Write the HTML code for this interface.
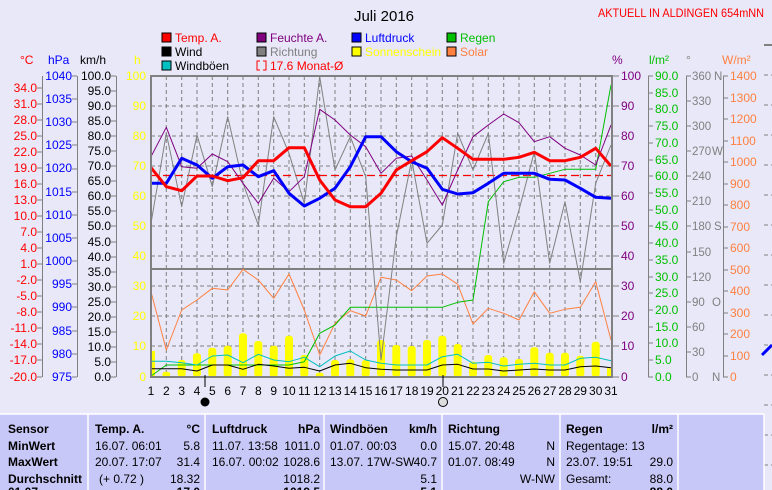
<!DOCTYPE html>
<html><head><meta charset="utf-8"><style>
html,body{margin:0;padding:0;background:#e8e8f8;}
svg{display:block;font-family:"Liberation Sans",sans-serif;}
</style></head><body>
<svg width="772" height="490" xmlns="http://www.w3.org/2000/svg" font-size="12">
<rect width="772" height="490" fill="#e8e8f8"/>
<text x="384" y="21" font-size="15" text-anchor="middle">Juli 2016</text>
<text x="598" y="17" font-size="12" fill="#ff0000" textLength="166" lengthAdjust="spacingAndGlyphs">AKTUELL IN ALDINGEN 654mNN</text>
<!-- legend -->
<g stroke="#000" stroke-width="1">
<rect x="162" y="33" width="9" height="9" fill="#ff0000"/>
<rect x="162" y="47" width="9" height="9" fill="#000"/>
<rect x="162" y="61" width="9" height="9" fill="#00c0c0"/>
<rect x="257" y="33" width="9" height="9" fill="#800080"/>
<rect x="257" y="47" width="9" height="9" fill="#808080"/>
<rect x="352" y="33" width="9" height="9" fill="#0000ff"/>
<rect x="352" y="47" width="9" height="9" fill="#ffff00"/>
<rect x="447" y="33" width="9" height="9" fill="#00c000"/>
<rect x="447" y="47" width="9" height="9" fill="#ff8040"/>
</g>
<path d="M260 61 h-3 v9 h3 M263 61 h3 v9 h-3" stroke="#ff0000" fill="none"/>
<g font-size="12">
<text x="175" y="42" fill="#ff0000">Temp. A.</text>
<text x="175" y="56">Wind</text>
<text x="175" y="70">Windböen</text>
<text x="270" y="42" fill="#800080">Feuchte A.</text>
<text x="270" y="56" fill="#808080">Richtung</text>
<text x="270" y="70" fill="#ff0000">17.6 Monat-Ø</text>
<text x="365" y="42" fill="#0000ff">Luftdruck</text>
<text x="365" y="56" fill="#ffff00">Sonnenschein</text>
<text x="460" y="42" fill="#00c000">Regen</text>
<text x="460" y="56" fill="#ff8040">Solar</text>
</g>
<!-- unit headers -->
<text x="20" y="64" fill="#ff0000">°C</text>
<text x="48" y="64" fill="#0000ff">hPa</text>
<text x="80" y="64">km/h</text>
<text x="134" y="64" fill="#ffff00">h</text>
<text x="612" y="64" fill="#800080">%</text>
<text x="649" y="64" fill="#00c000">l/m²</text>
<text x="686" y="64" fill="#808080">°</text>
<text x="722" y="64" fill="#ff8040">W/m²</text>

<!-- left axes lines -->
<g stroke="#808080" stroke-width="1">
<line x1="42.5" y1="76" x2="42.5" y2="377"/>
<line x1="77.5" y1="76" x2="77.5" y2="377"/>
<line x1="116.5" y1="76" x2="116.5" y2="377"/>
<line x1="648.5" y1="76" x2="648.5" y2="377"/>
<line x1="686.5" y1="76" x2="686.5" y2="377"/>
<line x1="723.5" y1="76" x2="723.5" y2="377"/>
</g>
<!-- °C -->
<g fill="#ff0000" text-anchor="end">
<text x="37" y="92">34.0</text><text x="37" y="108">31.0</text><text x="37" y="124">28.0</text><text x="37" y="140">25.0</text><text x="37" y="156">22.0</text><text x="37" y="172">19.0</text><text x="37" y="188">16.0</text><text x="37" y="204">13.0</text><text x="37" y="220">10.0</text><text x="37" y="236">7.0</text><text x="37" y="252">4.0</text><text x="37" y="268">1.0</text><text x="37" y="284">-2.0</text><text x="37" y="300">-5.0</text><text x="37" y="316">-8.0</text><text x="37" y="332">-11.0</text><text x="37" y="348">-14.0</text><text x="37" y="364">-17.0</text><text x="37" y="381">-20.0</text>
</g>
<path stroke="#808080" d="M37 88h5M37 104h5M37 120h5M37 136h5M37 152h5M37 168h5M37 184h5M37 200h5M37 216h5M37 232h5M37 248h5M37 264h5M37 280h5M37 296h5M37 312h5M37 328h5M37 344h5M37 360h5M37 377h5"/>
<!-- hPa -->
<g fill="#0000ff" text-anchor="end">
<text x="72" y="80">1040</text><text x="72" y="103">1035</text><text x="72" y="126">1030</text><text x="72" y="149">1025</text><text x="72" y="172">1020</text><text x="72" y="196">1015</text><text x="72" y="219">1010</text><text x="72" y="242">1005</text><text x="72" y="265">1000</text><text x="72" y="288">995</text><text x="72" y="311">990</text><text x="72" y="335">985</text><text x="72" y="358">980</text><text x="72" y="381">975</text>
</g>
<path stroke="#808080" d="M72 76h5M72 99h5M72 122h5M72 145h5M72 169h5M72 192h5M72 215h5M72 238h5M72 261h5M72 284h5M72 307h5M72 331h5M72 354h5M72 377h5"/>
<!-- km/h -->
<g fill="#000" text-anchor="end">
<text x="111" y="80">100.0</text><text x="111" y="95">95.0</text><text x="111" y="110">90.0</text><text x="111" y="125">85.0</text><text x="111" y="140">80.0</text><text x="111" y="155">75.0</text><text x="111" y="170">70.0</text><text x="111" y="185">65.0</text><text x="111" y="200">60.0</text><text x="111" y="215">55.0</text><text x="111" y="230">50.0</text><text x="111" y="246">45.0</text><text x="111" y="261">40.0</text><text x="111" y="276">35.0</text><text x="111" y="291">30.0</text><text x="111" y="306">25.0</text><text x="111" y="321">20.0</text><text x="111" y="336">15.0</text><text x="111" y="351">10.0</text><text x="111" y="366">5.0</text><text x="111" y="381">0.0</text>
</g>
<path stroke="#808080" d="M111 76h5M111 91h5M111 106h5M111 121h5M111 136h5M111 151h5M111 166h5M111 181h5M111 196h5M111 211h5M111 226h5M111 242h5M111 257h5M111 272h5M111 287h5M111 302h5M111 317h5M111 332h5M111 347h5M111 362h5M111 377h5"/>
<!-- h -->
<g fill="#ffff00" text-anchor="end">
<text x="146" y="80">100</text><text x="146" y="110">90</text><text x="146" y="140">80</text><text x="146" y="170">70</text><text x="146" y="200">60</text><text x="146" y="230">50</text><text x="146" y="260">40</text><text x="146" y="290">30</text><text x="146" y="320">20</text><text x="146" y="350">10</text><text x="146" y="381">0</text>
</g>

<!-- grid -->
<g stroke="#808080" stroke-dasharray="4,3" stroke-width="1">
<path d="M151 106h461M151 136h461M151 166h461M151 196h461M151 226h461M151 256h461M151 286h461M151 316h461M151 346h461"/>
<path d="M166.3 76v301M181.7 76v301M197 76v301M212.3 76v301M227.7 76v301M243 76v301M258.3 76v301M273.7 76v301M289 76v301M304.3 76v301M319.7 76v301M335 76v301M350.3 76v301M365.7 76v301M381 76v301M396.3 76v301M411.7 76v301M427 76v301M442.3 76v301M457.7 76v301M473 76v301M488.3 76v301M503.7 76v301M519 76v301M534.3 76v301M549.7 76v301M565 76v301M580.3 76v301M595.7 76v301"/>
</g>
<line x1="151" y1="269" x2="612" y2="269" stroke="#808080" stroke-width="2"/>
<line x1="151" y1="175.5" x2="612" y2="175.5" stroke="#ff0000" stroke-width="1.2" stroke-dasharray="8,4"/>

<!-- sunshine bars -->
<g fill="#ffff00">
<rect x="151" y="351" width="4" height="26"/>
<rect x="162.3" y="371.7" width="8" height="5.3" rx="3"/>
<rect x="177.7" y="360" width="8" height="17" rx="3"/>
<rect x="193" y="353.3" width="8" height="23.7" rx="3"/>
<rect x="208.3" y="347.7" width="8" height="29.3" rx="3"/>
<rect x="223.7" y="345.7" width="8" height="31.3" rx="3"/>
<rect x="239" y="333.3" width="8" height="43.7" rx="3"/>
<rect x="254.3" y="341" width="8" height="36" rx="3"/>
<rect x="269.7" y="345.7" width="8" height="31.3" rx="3"/>
<rect x="285" y="335.7" width="8" height="41.3" rx="3"/>
<rect x="300.3" y="355" width="8" height="22" rx="3"/>
<rect x="315.7" y="372.7" width="8" height="4.3" rx="3"/>
<rect x="331" y="360" width="8" height="17" rx="3"/>
<rect x="346.3" y="359.3" width="8" height="17.7" rx="3"/>
<rect x="361.7" y="360" width="8" height="17" rx="3"/>
<rect x="377" y="340" width="8" height="37" rx="3"/>
<rect x="392.3" y="345" width="8" height="32" rx="3"/>
<rect x="407.7" y="346" width="8" height="31" rx="3"/>
<rect x="423" y="340" width="8" height="37" rx="3"/>
<rect x="438.3" y="335.7" width="8" height="41.3" rx="3"/>
<rect x="453.7" y="344" width="8" height="33" rx="3"/>
<rect x="469" y="361.7" width="8" height="15.3" rx="3"/>
<rect x="484.3" y="355" width="8" height="22" rx="3"/>
<rect x="499.7" y="357.3" width="8" height="19.7" rx="3"/>
<rect x="515" y="359" width="8" height="18" rx="3"/>
<rect x="530.3" y="347.3" width="8" height="29.7" rx="3"/>
<rect x="545.7" y="352.7" width="8" height="24.3" rx="3"/>
<rect x="561" y="352.7" width="8" height="24.3" rx="3"/>
<rect x="576.3" y="355.7" width="8" height="21.3" rx="3"/>
<rect x="591.7" y="341.7" width="8" height="35.3" rx="3"/>
<rect x="607" y="368.3" width="4" height="8.7"/>
</g>

<g fill="none" stroke-linejoin="round">
<polyline stroke="#ff8040" stroke-width="1" points="151,291.7 166.3,350 181.7,310 197,300 212.3,288.3 227.7,290 243,269.3 258.3,280 273.7,298.3 289,274 304.3,310 319.7,355 335,323.3 350.3,310.7 365.7,316 381,277.3 396.3,280 411.7,290.7 427,276 442.3,274 457.7,284.3 473,324 488.3,308.3 503.7,313.3 519,320 534.3,291.7 549.7,313.3 565,309.3 580.3,307.3 595.7,281.7 611,340"/>
<polyline stroke="#00c000" stroke-width="1" points="151,376 166.3,365 181.7,365 197,365 212.3,365 227.7,365 243,365 258.3,365 273.7,365 289,365 304.3,361.7 319.7,333.3 335,325 350.3,307.3 365.7,307.3 381,307.3 396.3,307.3 411.7,307.3 427,307.3 442.3,307.3 457.7,302.3 473,300 488.3,201.7 503.7,181.7 519,177.3 534.3,177.3 549.7,173.3 565,169.3 580.3,169.3 595.7,169.3 611,85"/>
<polyline stroke="#00c0c0" stroke-width="1" points="151,361.3 166.3,361.3 181.7,362.7 197,365 212.3,356 227.7,355 243,362.7 258.3,354.3 273.7,360 289,361.7 304.3,357.3 319.7,366.7 335,356 350.3,351 365.7,360 381,363.3 396.3,365 411.7,365 427,365 442.3,356.7 457.7,354.3 473,363.3 488.3,362.3 503.7,366 519,364.3 534.3,363.3 549.7,365 565,365 580.3,358.3 595.7,357.3 611,360.7"/>
<polyline stroke="#000" stroke-width="1" points="151,368.7 166.3,368.7 181.7,368.7 197,371 212.3,365 227.7,365 243,369.3 258.3,364.3 273.7,366 289,368.3 304.3,367.3 319.7,371 335,365 350.3,363.3 365.7,367.7 381,369.3 396.3,370 411.7,370 427,370 442.3,365 457.7,364.3 473,369 488.3,369 503.7,371 519,370 534.3,369 549.7,370 565,370 580.3,366.7 595.7,366 611,367.7"/>
<polyline stroke="#808080" stroke-width="1" points="151,223.3 166.3,133.3 181.7,206.7 197,135 212.3,186.7 227.7,116.7 243,183.3 258.3,225 273.7,116.7 289,153.3 304.3,203.3 319.7,76.7 335,170 350.3,136.7 365.7,176.7 381,360 396.3,236.7 411.7,160 427,243.3 442.3,225 457.7,133.3 473,170 488.3,133.3 503.7,263.3 519,210 534.3,151.7 549.7,263.3 565,201.7 580.3,281.7 595.7,183.3 611,145"/>
<polyline stroke="#800080" stroke-width="1" points="151,156.7 166.3,127.3 181.7,166.7 197,168.3 212.3,154 227.7,161.7 243,183.3 258.3,203.3 273.7,178.3 289,191.7 304.3,176.7 319.7,109.3 335,120 350.3,135 365.7,146.7 381,173.3 396.3,158.3 411.7,156 427,180 442.3,205 457.7,170 473,136.7 488.3,125 503.7,114 519,122.7 534.3,141.7 549.7,136.7 565,148.3 580.3,155 595.7,165 611,125"/>
<polyline stroke="#0000ff" stroke-width="3" points="151,183.3 166.3,183.3 181.7,158.3 197,165 212.3,178.3 227.7,166.7 243,165 258.3,176.7 273.7,170.7 289,193.3 304.3,206 319.7,198.3 335,188.3 350.3,166.7 365.7,136.7 381,136.7 396.3,151.7 411.7,161.7 427,168.3 442.3,189.3 457.7,194 473,192.7 488.3,183.3 503.7,173.3 519,173.3 534.3,173.3 549.7,179.3 565,180 580.3,188.3 595.7,197.3 611,198.3"/>
<polyline stroke="#ff0000" stroke-width="3" points="151,167.7 166.3,186.7 181.7,190.7 197,176 212.3,176 227.7,180.7 243,177.7 258.3,160.7 273.7,160.7 289,147.7 304.3,147.7 319.7,180 335,200 350.3,206.7 365.7,206.7 381,193.3 396.3,170 411.7,160.7 427,151.7 442.3,137.7 457.7,148.3 473,159.3 488.3,159.3 503.7,159.3 519,157.3 534.3,152.3 549.7,160.7 565,160.7 580.3,157.3 595.7,148.3 611,166"/>
</g>

<rect x="151" y="76" width="461" height="301" fill="none" stroke="#808080" stroke-width="2"/>

<!-- right axes -->
<g fill="#800080">
<text x="621" y="80">100</text><text x="621" y="110">90</text><text x="621" y="140">80</text><text x="621" y="170">70</text><text x="621" y="200">60</text><text x="621" y="230">50</text><text x="621" y="260">40</text><text x="621" y="290">30</text><text x="621" y="320">20</text><text x="621" y="350">10</text><text x="621" y="381">0</text>
</g>
<path stroke="#808080" d="M612 76h7M612 106h7M612 136h7M612 166h7M612 196h7M612 226h7M612 256h7M612 286h7M612 316h7M612 346h7M612 377h7"/>
<g fill="#00c000">
<text x="655" y="80">90.0</text><text x="655" y="97">85.0</text><text x="655" y="113">80.0</text><text x="655" y="130">75.0</text><text x="655" y="147">70.0</text><text x="655" y="164">65.0</text><text x="655" y="180">60.0</text><text x="655" y="197">55.0</text><text x="655" y="214">50.0</text><text x="655" y="230">45.0</text><text x="655" y="247">40.0</text><text x="655" y="264">35.0</text><text x="655" y="281">30.0</text><text x="655" y="297">25.0</text><text x="655" y="314">20.0</text><text x="655" y="331">15.0</text><text x="655" y="347">10.0</text><text x="655" y="364">5.0</text><text x="655" y="381">0.0</text>
</g>
<path stroke="#808080" d="M648 76h5M648 93h5M648 109h5M648 126h5M648 143h5M648 160h5M648 176h5M648 193h5M648 210h5M648 226h5M648 243h5M648 260h5M648 277h5M648 293h5M648 310h5M648 327h5M648 343h5M648 360h5M648 377h5"/>
<g fill="#808080" font-size="11.5">
<text x="692" y="80">360</text><text x="692" y="105">330</text><text x="692" y="130">300</text><text x="692" y="155">270</text><text x="692" y="180">240</text><text x="692" y="205">210</text><text x="692" y="230">180</text><text x="692" y="256">150</text><text x="692" y="281">120</text><text x="692" y="306">90</text><text x="692" y="331">60</text><text x="692" y="356">30</text><text x="692" y="381">0</text>
<text x="714" y="80">N</text><text x="712" y="155">W</text><text x="714" y="230">S</text><text x="712" y="306">O</text><text x="712" y="381">N</text>
</g>
<path stroke="#808080" d="M686 76h5M686 101h5M686 126h5M686 151h5M686 176h5M686 201h5M686 226h5M686 252h5M686 277h5M686 302h5M686 327h5M686 352h5M686 377h5"/>
<g fill="#ff8040">
<text x="730" y="80">1400</text><text x="730" y="102">1300</text><text x="730" y="123">1200</text><text x="730" y="145">1100</text><text x="730" y="166">1000</text><text x="730" y="188">900</text><text x="730" y="209">800</text><text x="730" y="231">700</text><text x="730" y="252">600</text><text x="730" y="274">500</text><text x="730" y="295">400</text><text x="730" y="317">300</text><text x="730" y="338">200</text><text x="730" y="360">100</text><text x="730" y="381">0</text>
</g>
<path stroke="#808080" d="M723 76h5M723 98h5M723 119h5M723 141h5M723 162h5M723 184h5M723 205h5M723 227h5M723 248h5M723 270h5M723 291h5M723 313h5M723 334h5M723 356h5M723 377h5"/>
<line x1="764" y1="45" x2="772" y2="45" stroke="#808080" stroke-width="2"/>
<path stroke="#808080" stroke-dasharray="4,3" d="M764 75h8M764 105h8M764 135h8M764 165h8M764 195h8M764 225h8M764 255h8M764 285h8M764 315h8M764 345h8M764 375h8M764 405h8M764 435h8M764 465h8"/>
<path d="M762 355 l10 -10" stroke="#0000ff" stroke-width="3"/>

<g text-anchor="middle" font-size="12">
<text x="151" y="395">1</text><text x="166.3" y="395">2</text><text x="181.7" y="395">3</text><text x="197" y="395">4</text><text x="212.3" y="395">5</text><text x="227.7" y="395">6</text><text x="243" y="395">7</text><text x="258.3" y="395">8</text><text x="273.7" y="395">9</text><text x="289" y="395">10</text><text x="304.3" y="395">11</text><text x="319.7" y="395">12</text><text x="335" y="395">13</text><text x="350.3" y="395">14</text><text x="365.7" y="395">15</text><text x="381" y="395">16</text><text x="396.3" y="395">17</text><text x="411.7" y="395">18</text><text x="427" y="395">19</text><text x="442.3" y="395">20</text><text x="457.7" y="395">21</text><text x="473" y="395">22</text><text x="488.3" y="395">23</text><text x="503.7" y="395">24</text><text x="519" y="395">25</text><text x="534.3" y="395">26</text><text x="549.7" y="395">27</text><text x="565" y="395">28</text><text x="580.3" y="395">29</text><text x="595.7" y="395">30</text><text x="611" y="395">31</text>
</g>
<line x1="205" y1="375" x2="205" y2="387" stroke="#000"/>
<line x1="443" y1="375" x2="443" y2="387" stroke="#000"/>
<circle cx="205" cy="402" r="4.5" fill="#000"/>
<circle cx="443" cy="402" r="4.5" fill="#ddd" stroke="#000"/>

<rect x="0" y="414" width="764" height="76" fill="#c8c8f8"/>
<line x1="0" y1="414" x2="764" y2="414" stroke="#fff" stroke-width="1.5"/>
<g stroke="#fff" stroke-width="1.5">
<line x1="88" y1="414" x2="88" y2="490"/><line x1="205" y1="414" x2="205" y2="490"/><line x1="324" y1="414" x2="324" y2="490"/><line x1="442" y1="414" x2="442" y2="490"/><line x1="560" y1="414" x2="560" y2="490"/><line x1="678" y1="414" x2="678" y2="490"/><line x1="764" y1="414" x2="764" y2="490"/>
</g>
<g font-size="12" fill="#000">
<g font-weight="bold">
<text x="8" y="433">Sensor</text><text x="8" y="450">MinWert</text><text x="8" y="466">MaxWert</text><text x="8" y="483">Durchschnitt</text><text x="8" y="496">01.07.</text>
<text x="95" y="433">Temp. A.</text><text x="200" y="433" text-anchor="end">°C</text>
<text x="212" y="433">Luftdruck</text><text x="320" y="433" text-anchor="end">hPa</text>
<text x="330" y="433">Windböen</text><text x="437" y="433" text-anchor="end">km/h</text>
<text x="448" y="433">Richtung</text>
<text x="566" y="433">Regen</text><text x="673" y="433" text-anchor="end">l/m²</text>
</g>
<text x="95" y="450">16.07.  06:01</text><text x="200" y="450" text-anchor="end">5.8</text>
<text x="95" y="466">20.07.  17:07</text><text x="200" y="466" text-anchor="end">31.4</text>
<text x="99" y="483">(+ 0.72 )</text><text x="200" y="483" text-anchor="end">18.32</text>
<text x="212" y="450">11.07.  13:58</text><text x="320" y="450" text-anchor="end">1011.0</text>
<text x="212" y="466">16.07.  00:02</text><text x="320" y="466" text-anchor="end">1028.6</text>
<text x="320" y="483" text-anchor="end">1018.2</text>
<text x="330" y="450">01.07.  00:03</text><text x="437" y="450" text-anchor="end">0.0</text>
<text x="330" y="466">13.07.  17W-SW</text><text x="437" y="466" text-anchor="end">40.7</text>
<text x="437" y="483" text-anchor="end">5.1</text>
<text x="448" y="450">15.07.  20:48</text><text x="555" y="450" text-anchor="end">N</text>
<text x="448" y="466">01.07.  08:49</text><text x="555" y="466" text-anchor="end">N</text>
<text x="555" y="483" text-anchor="end">W-NW</text>
<text x="566" y="450">Regentage: 13</text>
<text x="566" y="466">23.07.  19:51</text><text x="673" y="466" text-anchor="end">29.0</text>
<text x="566" y="483">Gesamt:</text><text x="673" y="483" text-anchor="end">88.0</text>
<g font-weight="bold"><text x="200" y="496" text-anchor="end">17.0</text><text x="320" y="496" text-anchor="end">1019.5</text><text x="437" y="496" text-anchor="end">5.1</text><text x="673" y="496" text-anchor="end">88.0</text></g>
</g>
</svg>
</body></html>
